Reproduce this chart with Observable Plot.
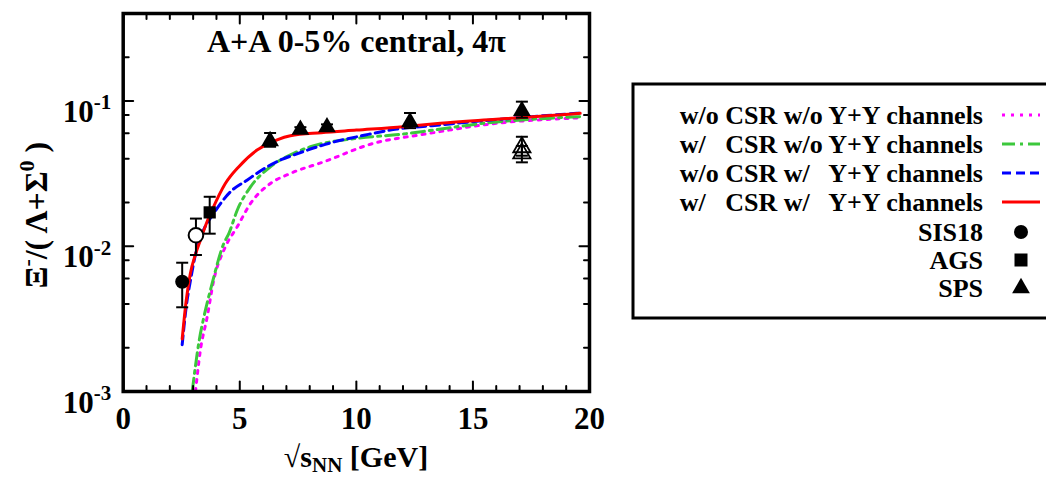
<!DOCTYPE html>
<html><head><meta charset="utf-8">
<script src="https://cdn.jsdelivr.net/npm/d3@7"></script>
<script src="https://cdn.jsdelivr.net/npm/@observablehq/plot@0.6"></script>
<style>
html,body{margin:0;padding:0;background:#fff;overflow:hidden;}
#wrap{position:relative;width:1046px;height:477px;overflow:hidden;}
#wrap svg, #wrap svg text{font-family:"Liberation Serif","Times New Roman",serif !important;font-weight:bold;}
</style>
</head><body><div id="wrap"></div>
<script>
// ---- model curves: sqrt(s_NN) [GeV] vs Xi-/(Lambda+Sigma0)
const magX = [3.1, 3.31, 3.6, 3.88, 4.38, 4.89, 5.46, 6.31, 7.17, 8.6, 10.74, 12.88, 16.03, 19.6];
const magY = [0.001, 0.00192, 0.00325, 0.0058, 0.0099, 0.0136, 0.0197, 0.027, 0.0317, 0.0381, 0.0511, 0.0589, 0.0702, 0.0765];
const grnX = [2.96, 3.1, 3.25, 3.46, 3.81, 4.31, 4.53, 4.89, 5.46, 6.31, 7.31, 8.03, 10.03, 11.89, 13.31, 15.46, 19.6];
const grnY = [0.001, 0.0015, 0.0022, 0.00325, 0.0055, 0.0104, 0.0122, 0.0177, 0.0256, 0.0352, 0.0436, 0.0484, 0.0553, 0.0589, 0.0631, 0.0702, 0.078];
const bluX = [2.53, 2.7, 2.9, 3.1, 3.39, 3.88, 4.6, 5.31, 6.17, 6.74, 7.39, 8.67, 10.39, 11.74, 13.24, 16, 19.6];
const bluY = [0.0021, 0.0038, 0.006, 0.0088, 0.0123, 0.0168, 0.0237, 0.0285, 0.0352, 0.0392, 0.0429, 0.0503, 0.0583, 0.0641, 0.0676, 0.0745, 0.0825];
const redX = [2.53, 2.7, 2.88, 3.1, 3.31, 3.6, 3.81, 4.38, 4.96, 5.74, 6.3, 6.6, 7.17, 8.5, 10, 12, 13.6, 16, 19.6];
const redY = [0.0023, 0.0042, 0.0065, 0.0088, 0.011, 0.0148, 0.0177, 0.027, 0.0353, 0.0459, 0.0515, 0.054, 0.0576, 0.0605, 0.063, 0.0665, 0.0702, 0.0748, 0.0822];

// ---- data points
const sisE = [2.53], sisR = [0.0057], sisLo = [0.0038], sisHi = [0.0077];
const openCircE = [3.12], openCircR = [0.0119], openCircLo = [0.0087], openCircHi = [0.0155];
const agsE = [3.71], agsR = [0.0171], agsLo = [0.0122], agsHi = [0.0219];
const spsE = [6.3, 7.6, 8.74, 12.3, 17.1], spsR = [0.053, 0.0634, 0.066, 0.0715, 0.0855];
const spsLo = [0.0484, 0.061, 0.0635, 0.065, 0.0767], spsHi = [0.0602, 0.066, 0.069, 0.0826, 0.0989];
const openSpsE = [17.1, 17.1], openSpsR = [0.048, 0.0436], openSpsLo = [0.042, 0.0378], openSpsHi = [0.0567, 0.049];

const legendLabels = ["w/o CSR w/o Y+Y channels", "w/   CSR w/o Y+Y channels", "w/o CSR w/   Y+Y channels", "w/   CSR w/   Y+Y channels", "SIS18", "AGS", "SPS"];
const xTickLabels = [0, 5, 10, 15, 20];
const yTickLabels = [0.001, 0.01, 0.1];
const yExponents = ["-3", "-2", "-1"];
const xMinor = [1,2,3,4,6,7,8,9,11,12,13,14,16,17,18,19];
const yMinor = [0.002,0.004,0.006,0.008,0.02,0.04,0.06,0.08,0.2];
const titleText = "A+A 0-5% central, 4π";

const styles = [
  {x: magX, y: magY, color: "#ff00ff", dash: "3,6"},
  {x: grnX, y: grnY, color: "#3cc83c", dash: "13,5,3,5"},
  {x: bluX, y: bluY, color: "#0000ff", dash: "9,5"},
  {x: redX, y: redY, color: "#ff0000", dash: null}
];
const rows = (xs, ys) => xs.map((x, i) => ({x, y: ys[i]}));
const errRows = (xs, ys, lo, hi) => xs.map((x, i) => ({x, y: ys[i], lo: lo[i], hi: hi[i]}));

const tickShape = {draw(ctx, l) { ctx.moveTo(0, 0); ctx.lineTo(0, -l); }};
const capSymbol = {draw(ctx) { ctx.moveTo(-6, 0); ctx.lineTo(6, 0); }};

function ticks(data, accessor, anchor, rotate, len) {
  const o = {frameAnchor: anchor, length: len, rotate, anchor: "start", shape: tickShape, stroke: "black", strokeWidth: 2};
  o[accessor] = d => d;
  return Plot.vector(data, o);
}
function errMarks(d) {
  return [
    Plot.ruleX(d, {x: "x", y1: "lo", y2: "hi", stroke: "black", strokeWidth: 2}),
    Plot.dot(d, {x: "x", y: "lo", symbol: capSymbol, fill: "none", stroke: "black", strokeWidth: 2}),
    Plot.dot(d, {x: "x", y: "hi", symbol: capSymbol, fill: "none", stroke: "black", strokeWidth: 2})
  ];
}

const sisD = errRows(sisE, sisR, sisLo, sisHi);
const ocD = errRows(openCircE, openCircR, openCircLo, openCircHi);
const agsD = errRows(agsE, agsR, agsLo, agsHi);
const spsD = errRows(spsE, spsR, spsLo, spsHi);
const ospsD = errRows(openSpsE, openSpsR, openSpsLo, openSpsHi);

const svg = Plot.plot({
  width: 1046, height: 477,
  marginLeft: 122.7, marginRight: 457, marginTop: 13, marginBottom: 86,
  style: "font-family: 'Liberation Serif', 'Times New Roman', serif; font-weight: bold; background: white;",
  x: {domain: [0, 20]},
  y: {type: "log", domain: [0.001, 0.4]},
  marks: [
    ...styles.map(s => Plot.line(rows(s.x, s.y), {x: "x", y: "y", stroke: s.color, strokeWidth: 3, strokeDasharray: s.dash, curve: "monotone-x", clip: true})),
    ...errMarks(sisD), ...errMarks(ocD), ...errMarks(agsD), ...errMarks(spsD), ...errMarks(ospsD),
    Plot.dot(sisD, {x: "x", y: "y", r: 7, fill: "black", symbol: "circle"}),
    Plot.dot(ocD, {x: "x", y: "y", r: 7.3, fill: "white", stroke: "black", strokeWidth: 2, symbol: "circle"}),
    Plot.dot(agsD, {x: "x", y: "y", r: 6.9, fill: "black", symbol: "square"}),
    Plot.dot(spsD, {x: "x", y: "y", r: 6.6, fill: "black", symbol: "triangle"}),
    Plot.dot(ospsD, {x: "x", y: "y", r: 6.4, fill: "none", stroke: "black", strokeWidth: 1.8, symbol: "triangle"}),
    ticks(xTickLabels, "x", "bottom", 0, 10),
    ticks(xMinor, "x", "bottom", 0, 5.5),
    ticks(xTickLabels, "x", "top", 180, 10),
    ticks(xMinor, "x", "top", 180, 5.5),
    ticks(yTickLabels, "y", "left", 90, 10),
    ticks(yMinor, "y", "left", 90, 5.5),
    ticks(yTickLabels, "y", "right", -90, 10),
    ticks(yMinor, "y", "right", -90, 5.5),
    Plot.frame({stroke: "black", strokeWidth: 3.5}),
    Plot.axisX({ticks: xTickLabels, tickSize: 0, tickPadding: 15, fontSize: 31, label: null, tickFormat: d => String(d)}),
    Plot.axisY({ticks: yTickLabels, tickSize: 0, tickPadding: 12, fontSize: 31, label: null, tickFormat: () => "10"}),
    Plot.text([titleText], {frameAnchor: "top", lineAnchor: "top", dy: 16, fontSize: 32, fontWeight: "bold", fill: "black"})
  ]
});

const s = d3.select(svg);
// exponents on y tick labels
s.selectAll('g[aria-label="y-axis tick label"] text').each(function(d, i) {
  d3.select(this).attr("dy", "0.36em").append("tspan").attr("font-size", 21).attr("dy", "-0.6em").text(yExponents[i]);
});
// y axis label
const yl = s.append("text").attr("transform", "translate(47,215) rotate(-90)").attr("text-anchor", "middle").attr("font-size", 32).attr("fill", "black");
yl.append("tspan").text("Ξ");
yl.append("tspan").attr("font-size", 22).attr("dy", -13).text("-");
yl.append("tspan").attr("dy", 13).text("/( Λ+Σ");
yl.append("tspan").attr("font-size", 22).attr("dy", -13).text("0");
yl.append("tspan").attr("dy", 13).text(" )");
// x axis label
const xl = s.append("text").attr("x", 356).attr("y", 467).attr("text-anchor", "middle").attr("font-size", 30).attr("fill", "black");
xl.append("tspan").text("√s");
xl.append("tspan").attr("font-size", 21).attr("dy", 5).text("NN");
xl.append("tspan").attr("dy", -5).text(" [GeV]");

// legend
const lg = s.append("g").attr("font-size", 26).attr("fill", "black");
lg.append("rect").attr("x", 633).attr("y", 84).attr("width", 480).attr("height", 234).attr("fill", "white").attr("stroke", "black").attr("stroke-width", 3);
const rowY = [115, 144, 173, 202, 232, 260, 288];
legendLabels.forEach((t, i) => {
  lg.append("text").attr("x", 983).attr("y", rowY[i]).attr("dy", "0.33em").attr("text-anchor", "end").attr("xml:space", "preserve").style("white-space", "pre").text(t);
  if (i < 4) {
    lg.append("line").attr("x1", 1002).attr("x2", 1040).attr("y1", rowY[i]).attr("y2", rowY[i])
      .attr("stroke", styles[i].color).attr("stroke-width", 3).attr("stroke-dasharray", styles[i].dash);
  }
});
lg.append("circle").attr("cx", 1021).attr("cy", rowY[4]).attr("r", 7).attr("fill", "black");
lg.append("rect").attr("x", 1014.5).attr("y", rowY[5] - 6.5).attr("width", 13).attr("height", 13).attr("fill", "black");
lg.append("path").attr("d", d3.symbol(d3.symbolTriangle, Math.PI * 6.6 * 6.6)()).attr("transform", `translate(1021,${rowY[6]})`).attr("fill", "black");

document.getElementById("wrap").appendChild(svg);
</script>
</body></html>
